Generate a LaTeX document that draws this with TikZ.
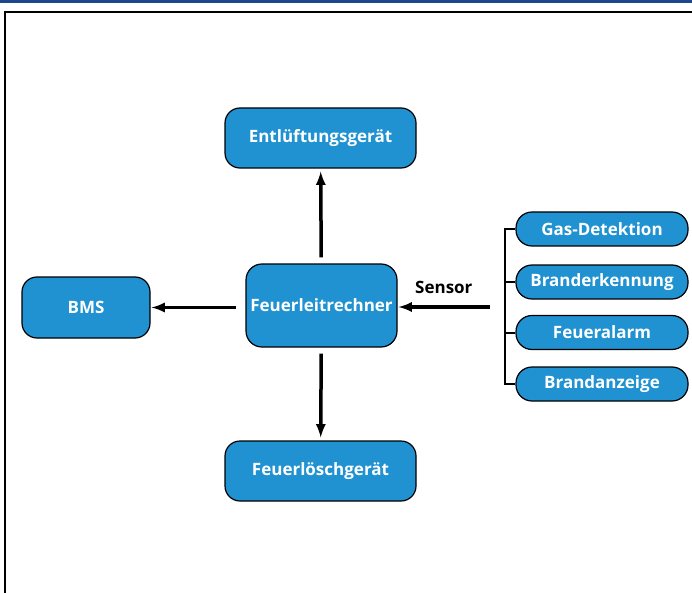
\documentclass[tikz,border=0pt]{standalone}
\usepackage{fontspec}
\setmainfont{Open Sans}
\usetikzlibrary{arrows}
\definecolor{boxblue}{RGB}{32,146,210}
\definecolor{barblue}{RGB}{30,70,140}
\tikzset{
  block/.style = {draw = black, line width = 1.2pt, fill = boxblue, rounded corners = 15pt,
    text = white, font = \fontsize{17}{20}\selectfont\bfseries, inner sep = 0pt},
  pill/.style = {block, minimum width = 172pt, minimum height = 34pt, rounded corners = 16pt},
  flow/.style = {line width = 3.5pt, -latex}
}
\begin{document}
\begin{tikzpicture}[x = 1pt, y = -1pt]

			\useasboundingbox (0, 0) rectangle (692, 593);
			\fill[barblue] (0, 0) rectangle (692, 3); % top bar
			\draw[line width = 2pt] (5, 600) -- (5, 12) -- (700, 12); % frame

			\node[block, minimum width = 191pt, minimum height = 60pt] (vent) at (320.5, 138) {Entlüftungsgerät};
			\node[block, minimum width = 151pt, minimum height = 83pt, rounded corners = 16pt] (ctrl) at (321.5, 305.5) {Feuerleitrechner};
			\node[block, minimum width = 128pt, minimum height = 61pt] (bms) at (86, 307.5) {BMS};
			\node[block, minimum width = 191pt, minimum height = 60pt] (ext) at (320.5, 471) {Feuerlöschgerät};

			\node[pill] (gas) at (602, 229) {Gas-Detektion};
			\node[pill] (detect) at (602, 282) {Branderkennung};
			\node[pill] (alarm) at (602, 332.5) {Feueralarm};
			\node[pill] (display) at (602, 384) {Brandanzeige};

			\draw[flow, shorten <= 6pt, shorten >= 3pt] (ctrl) -- (vent);
			\draw[flow, shorten <= 6pt, shorten >= 3pt] (ctrl) -- (ext);
			\draw[flow, shorten <= 9pt, shorten >= 1pt] (ctrl.west |- bms) -- (bms);

			\coordinate (sensor) at (490, 307);
			\draw[flow, shorten >= 1pt] (sensor) -- (sensor -| ctrl.east) node[midway, above = 8pt, text = black, font = \fontsize{17}{20}\selectfont\bfseries]{Sensor};

			% bracket of the sensors
			\draw[line width = 2pt] (gas.west) -- ++(-10, 0) |- (display.west);
			\draw[line width = 2pt] (detect.west) -- ++(-10, 0);
			\draw[line width = 2pt] (alarm.west) -- ++(-10, 0);
		\end{tikzpicture}
\end{document}
